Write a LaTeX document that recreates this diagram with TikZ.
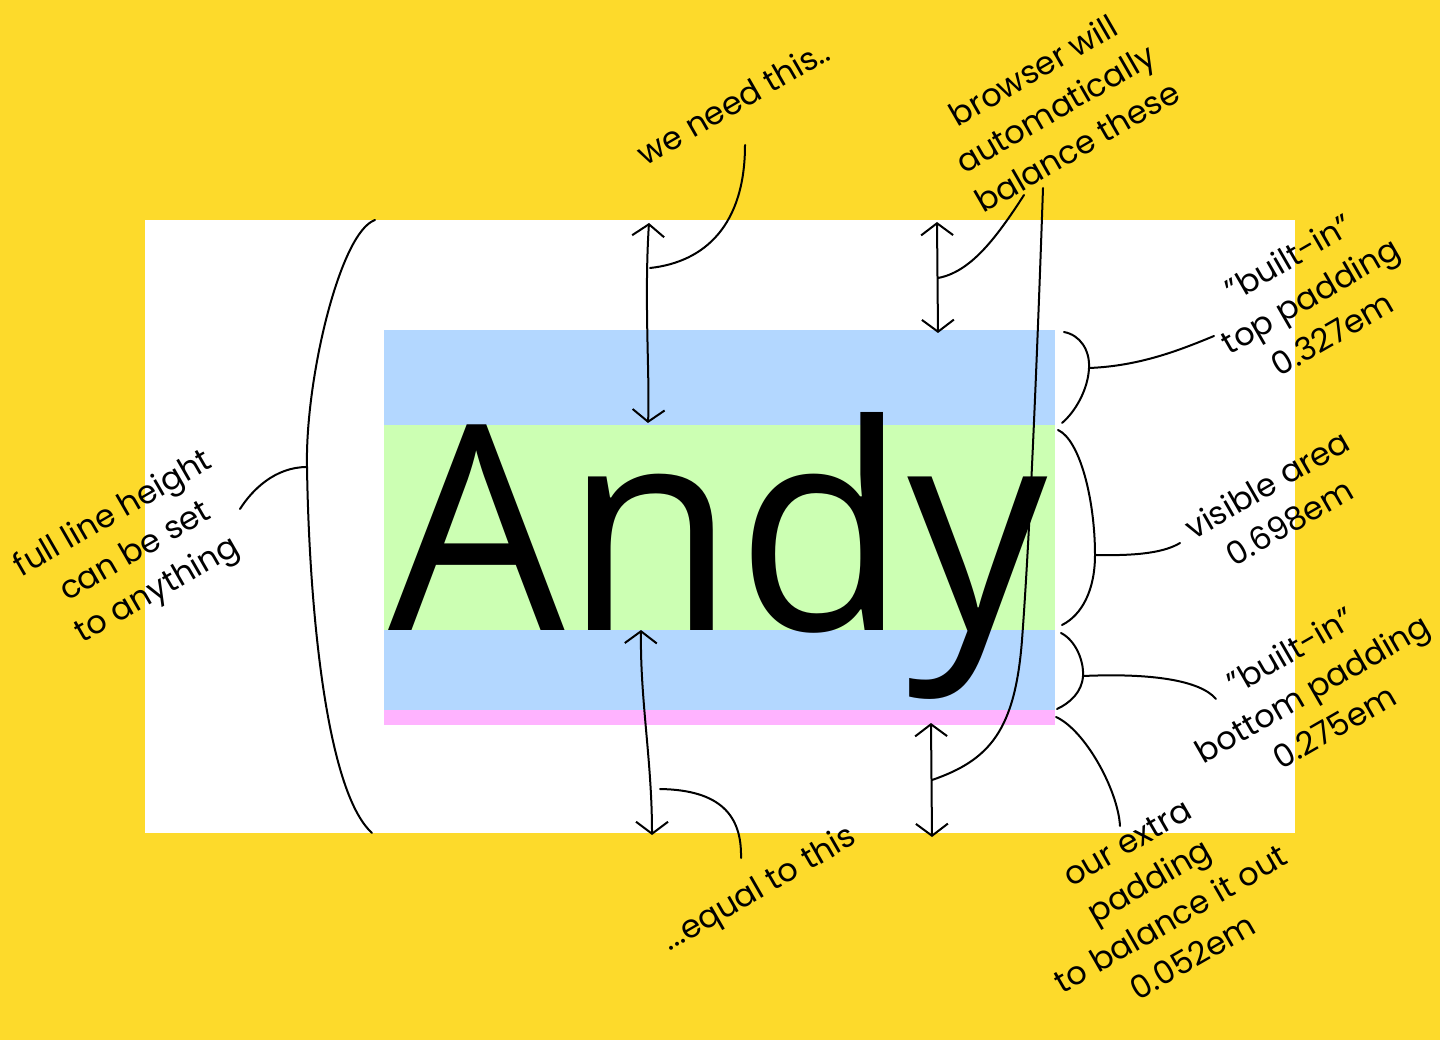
\documentclass[tikz,border=0pt]{standalone}
\usepackage{fontspec}
\setmainfont{Poppins}
\newfontfamily\andyfont{Open Sans}
\usetikzlibrary{arrows.meta}
\definecolor{bgyellow}{RGB}{253,218,43}
\definecolor{bandblue}{RGB}{179,215,255}
\definecolor{bandgreen}{RGB}{204,255,179}
\definecolor{bandpink}{RGB}{255,179,255}
\begin{document}
\begin{tikzpicture}[x=1pt,y=-1pt,
  note/.style={rotate=30, align=center, font=\fontsize{32}{44}\selectfont, inner sep=0pt},
  line/.style={line width=2pt, line cap=round, draw=black},
  barb/.tip={Straight Barb[length=12pt,width=32pt]},
  dbl/.style={line, barb-barb}]
\fill[bgyellow] (0,0) rectangle (1440,1040);
\useasboundingbox (0,0) rectangle (1440,1040);
\fill[white] (145,220) rectangle (1295,833);
\fill[bandblue] (384,330) rectangle (1055,425);
\fill[bandgreen] (384,425) rectangle (1055,630);
\fill[bandblue] (384,630) rectangle (1055,710);
\fill[bandpink] (384,710) rectangle (1055,725);
\node[anchor=base west, inner sep=0pt, xscale=0.972, font=\andyfont\fontsize{287}{287}\selectfont] (andy) at (388,630) {Andy};

% labels
\node[note] (need) at (733,102) {we need this..};
\node[note] (browser) at (1055,108) {browser will\\automatically\\balance these};
\node[note] (full) at (136,553) {full line height\\can be set\\to anything};
\node[note] (equal) at (760,890) {...equal to this};
\node[note] (topp) at (1310,295) {"built-in"\\top padding\\0.327em};
\node[note] (vis) at (1278,503) {visible area\\0.698em};
\node[note] (botp) at (1312,688) {"built-in"\\bottom padding\\0.275em};
\node[note] (extra) at (1160,900) {our extra\\padding\\to balance it out\\0.052em};

% coordinates
\coordinate (bTop) at (375,220);
\coordinate (bMid) at (307,467);
\coordinate (bBot) at (372,833);
\coordinate (fullEnd) at (240,509);
\coordinate (a1top) at (649,223);
\coordinate (a1bot) at (648,423);
\coordinate (needEnd) at (745,145);
\coordinate (needMid) at (650,268);
\coordinate (a2top) at (937,222);
\coordinate (a2bot) at (938,333);
\coordinate (balEnd) at (1024,195);
\coordinate (a2mid) at (938,278);
\coordinate (theseEnd) at (1043,188);
\coordinate (a4mid) at (932,780);
\coordinate (a3top) at (641,630);
\coordinate (a3bot) at (652,835);
\coordinate (a3mid) at (660,789);
\coordinate (equalEnd) at (741,858);
\coordinate (a4top) at (931,723);
\coordinate (a4bot) at (932,837);

% left brace
\draw[line] (bTop) .. controls (340,232) and (305,380) .. (bMid) .. controls (309,600) and (325,790) .. (bBot);
\draw[line] (bMid) .. controls (275,467) and (252,490) .. (fullEnd);

% top arrows
\draw[dbl] (a1top) .. controls (644,300) and (650,380) .. (a1bot);
\draw[line] (needEnd) .. controls (745,225) and (705,262) .. (needMid);
\draw[dbl] (a2top) -- (a2bot);
\draw[line] (balEnd) .. controls (995,240) and (970,272) .. (a2mid);
\draw[line] (theseEnd) .. controls (1035,420) and (1028,560) .. (1022,640) .. controls (1015,730) and (990,760) .. (a4mid);

% bottom arrows
\draw[dbl] (a3top) .. controls (640,700) and (652,760) .. (a3bot);
\draw[line] (a3mid) .. controls (720,790) and (742,815) .. (equalEnd);
\draw[dbl] (a4top) -- (a4bot);

% right braces
\draw[line] (1064,332) .. controls (1080,335) and (1090,350) .. (1089,368) .. controls (1088,390) and (1075,412) .. (1062,423);
\draw[line] (1089,368) .. controls (1140,366) and (1180,350) .. (1214,336);
\draw[line] (1058,430) .. controls (1080,440) and (1095,500) .. (1095,555) .. controls (1095,590) and (1082,615) .. (1062,625);
\draw[line] (1095,555) .. controls (1140,556) and (1165,552) .. (1180,543);
\draw[line] (1061,633) .. controls (1075,640) and (1084,660) .. (1083,676) .. controls (1082,692) and (1070,703) .. (1057,709);
\draw[line] (1083,676) .. controls (1150,673) and (1200,680) .. (1216,699);
\draw[line] (1056,717) .. controls (1085,730) and (1118,790) .. (1120,826);
\end{tikzpicture}
\end{document}
